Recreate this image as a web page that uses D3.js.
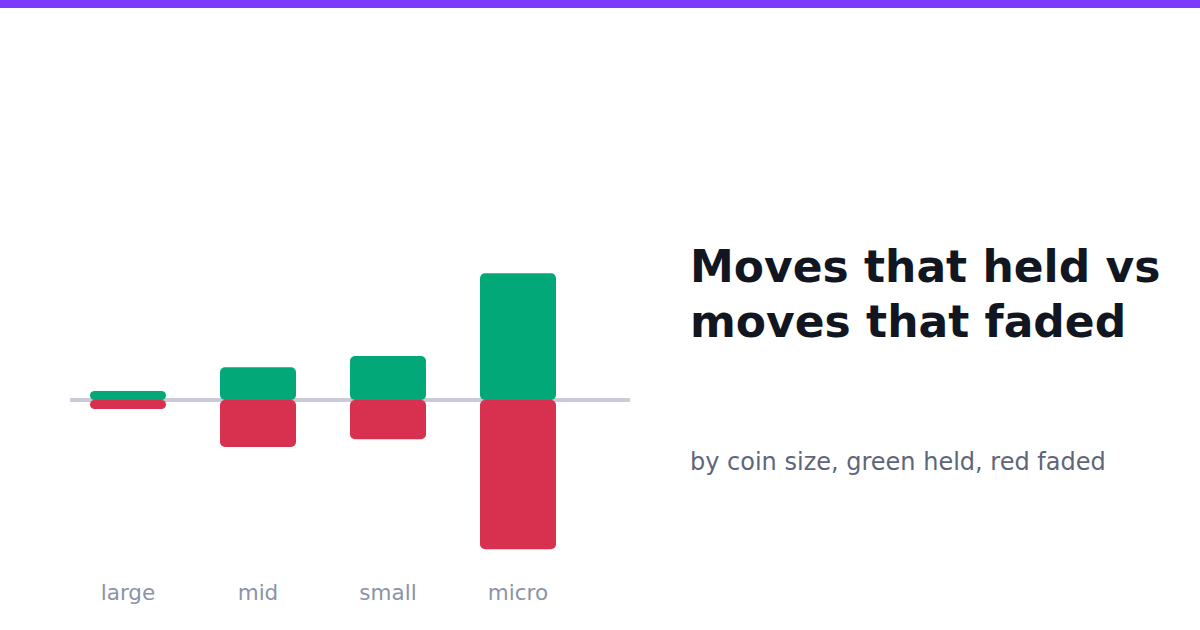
<!DOCTYPE html>
<meta charset="utf-8">
<style>
  body { margin: 0; background: #fff; }
  text { font-family: "DejaVu Sans", sans-serif; }
</style>
<svg id="chart" width="1200" height="630"></svg>
<script src="https://d3js.org/d3.v7.min.js"></script>
<script>
// data (share of moves, %)
var sizes = ["large", "mid", "small", "micro"];
var held = [6, 21.8, 29.3, 84.5];
var faded = [6, 31.3, 26.2, 99.5];

var svg = d3.select("#chart");

// purple strip along the top
svg.append("rect").attr("x", 0).attr("y", 0)
    .attr("width", 1200).attr("height", 8).attr("fill", "#7c3aff");

var step = 130, gap = 54;
var x = d3.scaleBand().domain(sizes)
    .range([63, 583])
    .paddingInner(gap / step).paddingOuter(gap / step / 2);
var y = d3.scaleLinear().domain([-100, 100]).range([550, 250]);

// zero line behind bars
svg.append("line")
    .attr("x1", 70).attr("x2", 630)
    .attr("y1", y(0)).attr("y2", y(0))
    .attr("stroke", "#c9ccd8").attr("stroke-width", 4);

var rows = sizes.map((s, i) => ({size: s, held: held[i], faded: faded[i]}));

function radius(h) { return Math.min(5, h / 2); }

svg.selectAll(".held")
    .data(rows)
    .enter().append("rect")
    .attr("class", "held")
    .attr("x", d => x(d.size))
    .attr("width", x.bandwidth())
    .attr("y", d => y(d.held))
    .attr("height", d => y(0) - y(d.held))
    .attr("rx", d => radius(y(0) - y(d.held)))
    .attr("fill", "#02a878");

svg.selectAll(".faded")
    .data(rows)
    .enter().append("rect")
    .attr("class", "faded")
    .attr("x", d => x(d.size))
    .attr("width", x.bandwidth())
    .attr("y", y(0))
    .attr("height", d => y(-d.faded) - y(0))
    .attr("rx", d => radius(y(-d.faded) - y(0)))
    .attr("fill", "#d83150");

// category labels
svg.selectAll(".lbl")
    .data(sizes)
    .enter().append("text")
    .attr("x", d => x(d) + x.bandwidth() / 2)
    .attr("y", 600)
    .attr("text-anchor", "middle")
    .attr("font-size", 21.5)
    .attr("fill", "#8a93a8")
    .text(d => d);

// title block on the right
var title = svg.append("text")
    .attr("x", 690).attr("y", 282)
    .attr("font-size", 44).attr("font-weight", "bold")
    .attr("fill", "#111620");
title.append("tspan").attr("x", 690).text("Moves that held vs");
title.append("tspan").attr("x", 690).attr("dy", 55).text("moves that faded");

svg.append("text")
    .attr("x", 690).attr("y", 470)
    .attr("font-size", 24)
    .attr("fill", "#5e6679")
    .text("by coin size, green held, red faded");
</script>
